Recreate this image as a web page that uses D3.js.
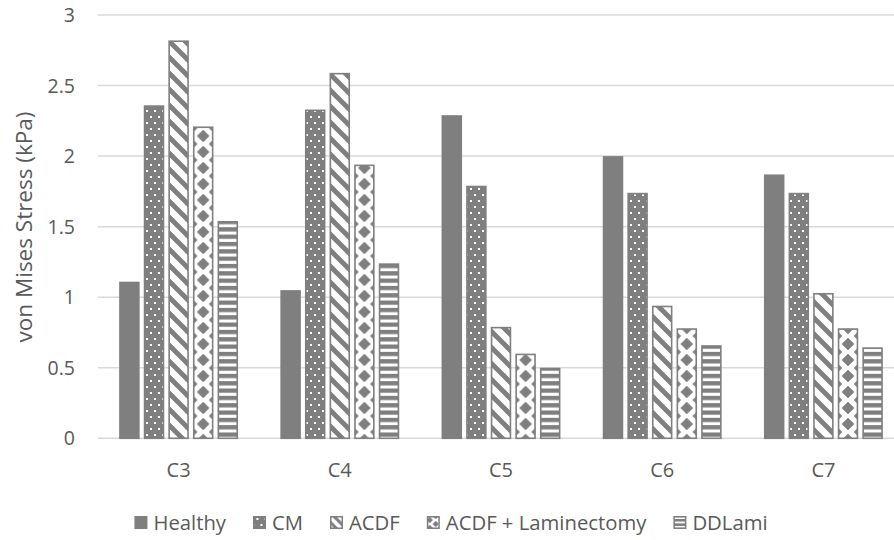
<!DOCTYPE html>
<html>
<head>
<meta charset="utf-8">
<script src="https://cdn.jsdelivr.net/npm/d3@7"></script>
<style>
  html, body { margin: 0; padding: 0; background: #ffffff; }
  svg { display: block; }
  text { font-family: "Open Sans", sans-serif; fill: #595959; }
</style>
</head>
<body>
<script>
// ---------------- data ----------------
const categories = ["C3", "C4", "C5", "C6", "C7"];
const seriesNames = ["Healthy", "CM", "ACDF", "ACDF + Laminectomy", "DDLami"];
const healthy = [1.11, 1.05, 2.29, 2.00, 1.87];
const cm      = [2.36, 2.33, 1.79, 1.74, 1.74];
const acdf    = [2.82, 2.59, 0.79, 0.94, 1.03];
const acdfLam = [2.21, 1.94, 0.60, 0.78, 0.78];
const ddlami  = [1.54, 1.24, 0.50, 0.66, 0.645];
const yTicks  = [0, 0.5, 1, 1.5, 2, 2.5, 3];
const yTickLabels = ["0", "0.5", "1", "1.5", "2", "2.5", "3"];
const yTitle = "von Mises Stress (kPa)";

const seriesValues = [healthy, cm, acdf, acdfLam, ddlami];
const GRAY = "#7f7f7f";

// ---------------- setup ----------------
const W = 894, H = 540;
const svg = d3.select("body").append("svg").attr("width", W).attr("height", H);
const defs = svg.append("defs");

const x0 = d3.scaleBand().domain(categories).range([98, 904]).paddingInner(0).paddingOuter(0);
const x1 = d3.scaleBand().domain(seriesNames).range([0, x0.bandwidth()])
  .paddingInner(0.167).paddingOuter(0.86);
const y = d3.scaleLinear().domain([0, 3]).range([438.3, 15]);

// ---------------- patterns ----------------
function patCM(id) {
  const p = defs.append("pattern").attr("id", id).attr("patternUnits", "userSpaceOnUse")
    .attr("width", 8).attr("height", 12);
  p.append("rect").attr("width", 8).attr("height", 12).attr("fill", GRAY);
  p.append("rect").attr("x", 2).attr("y", 2).attr("width", 2).attr("height", 2).attr("fill", "#fff");
  p.append("rect").attr("x", 6).attr("y", 8).attr("width", 2).attr("height", 2).attr("fill", "#fff");
}
function patACDF(id, s) {
  const T = 16 * s, t = 3.5 * s;
  const p = defs.append("pattern").attr("id", id).attr("patternUnits", "userSpaceOnUse")
    .attr("width", T).attr("height", T);
  p.append("rect").attr("width", T).attr("height", T).attr("fill", "#fff");
  p.append("path").attr("fill", GRAY).attr("d",
    `M0,0 L${t},0 L${T},${T - t} L${T},${T} L${T - t},${T} L0,${t} Z ` +
    `M${T - t},0 L${T},0 L${T},${t} Z M0,${T - t} L0,${T} L${t},${T} Z`);
}
function patHoriz(id, s) {
  const P = 7.33 * s, g = 4.3 * s;
  const p = defs.append("pattern").attr("id", id).attr("patternUnits", "userSpaceOnUse")
    .attr("width", 8).attr("height", P);
  p.append("rect").attr("width", 8).attr("height", P).attr("fill", "#fff");
  p.append("rect").attr("width", 8).attr("height", g).attr("fill", GRAY);
}
function patDiamond(id, cx, s) {
  const Wt = 24 * s, Ht = 16 * s, r = 6.3 * s;
  const p = defs.append("pattern").attr("id", id).attr("patternUnits", "userSpaceOnUse")
    .attr("x", cx - Wt / 2).attr("y", 0).attr("width", Wt).attr("height", Ht);
  p.append("rect").attr("width", Wt).attr("height", Ht).attr("fill", "#fff");
  const centers = [[Wt / 2, Ht / 2], [0, 0], [Wt, 0], [0, Ht], [Wt, Ht]];
  p.append("path").attr("fill", GRAY).attr("d", centers.map(([a, b]) =>
    `M${a},${b - r} L${a + r},${b} L${a},${b + r} L${a - r},${b} Z`).join(" "));
}

patCM("pCM");
patACDF("pACDF", 1);
patHoriz("pH", 1);
patACDF("pACDFs", 0.6);
patHoriz("pHs", 0.6);

function fillFor(si, ci, cx) {
  if (si === 0) return GRAY;
  if (si === 1) return "url(#pCM)";
  if (si === 2) return "url(#pACDF)";
  if (si === 3) { const id = "pD" + ci; patDiamond(id, cx, 1); return `url(#${id})`; }
  return "url(#pH)";
}

// ---------------- gridlines ----------------
svg.append("g").selectAll("line").data(yTicks).join("line")
  .attr("x1", 98).attr("x2", 904)
  .attr("y1", d => y(d)).attr("y2", d => y(d))
  .attr("stroke", "#d9d9d9").attr("stroke-width", 1.5);

// y tick labels
svg.append("g").selectAll("text").data(yTicks).join("text")
  .attr("x", 75).attr("y", d => y(d)).attr("dy", "0.36em")
  .attr("text-anchor", "end").style("font-size", "19.5px")
  .text((d, i) => yTickLabels[i]);

// y title
svg.append("text")
  .attr("transform", "translate(32,227) rotate(-90)")
  .attr("text-anchor", "middle").style("font-size", "22.5px")
  .text(yTitle);

// ---------------- bars ----------------
const barData = [];
categories.forEach((c, ci) => {
  seriesNames.forEach((s, si) => {
    barData.push({ c, ci, s, si, v: seriesValues[si][ci] });
  });
});
const sw = 1.6;
svg.append("g").selectAll("rect").data(barData).join("rect")
  .each(function (d) {
    const bx = x0(d.c) + x1(d.s), bw = x1.bandwidth();
    const top = y(d.v), bot = y(0);
    d3.select(this)
      .attr("x", bx + sw / 2).attr("width", bw - sw)
      .attr("y", top + sw / 2).attr("height", bot - top - sw / 2)
      .attr("fill", fillFor(d.si, d.ci, bx + bw / 2))
      .attr("stroke", GRAY).attr("stroke-width", sw);
  });

// category labels
svg.append("g").selectAll("text").data(categories).join("text")
  .attr("x", d => x0(d) + x1(seriesNames[0]) + (x1(seriesNames[4]) + x1.bandwidth() - x1(seriesNames[0])) / 2)
  .attr("y", 477).attr("text-anchor", "middle").style("font-size", "20px")
  .text(d => d);

// ---------------- legend ----------------
const lg = svg.append("g");
const mk = 13, gapMk = 6, gapItem = 27;
const items = [];
let cx = 0;
seriesNames.forEach((s, si) => {
  const g = lg.append("g");
  const t = g.append("text").attr("x", cx + mk + gapMk).attr("y", 530)
    .style("font-size", "20.3px").text(s);
  const tw = t.node().getComputedTextLength();
  items.push({ g, x: cx, si });
  cx += mk + gapMk + tw + gapItem;
});
const totalW = cx - gapItem;
const startX = 451 - totalW / 2;
lg.attr("transform", `translate(${startX},0)`);
items.forEach(it => {
  let f;
  if (it.si === 0) f = GRAY;
  else if (it.si === 1) f = "url(#pCM)";
  else if (it.si === 2) f = "url(#pACDFs)";
  else if (it.si === 3) { patDiamond("pDleg", startX + it.x + mk / 2, 0.5); f = "url(#pDleg)"; }
  else f = "url(#pHs)";
  it.g.insert("rect", "text").attr("x", it.x + 0.75).attr("y", 516.75)
    .attr("width", mk - 1.5).attr("height", mk - 1.5)
    .attr("fill", f).attr("stroke", GRAY).attr("stroke-width", 1.5);
});
</script>
</body>
</html>
